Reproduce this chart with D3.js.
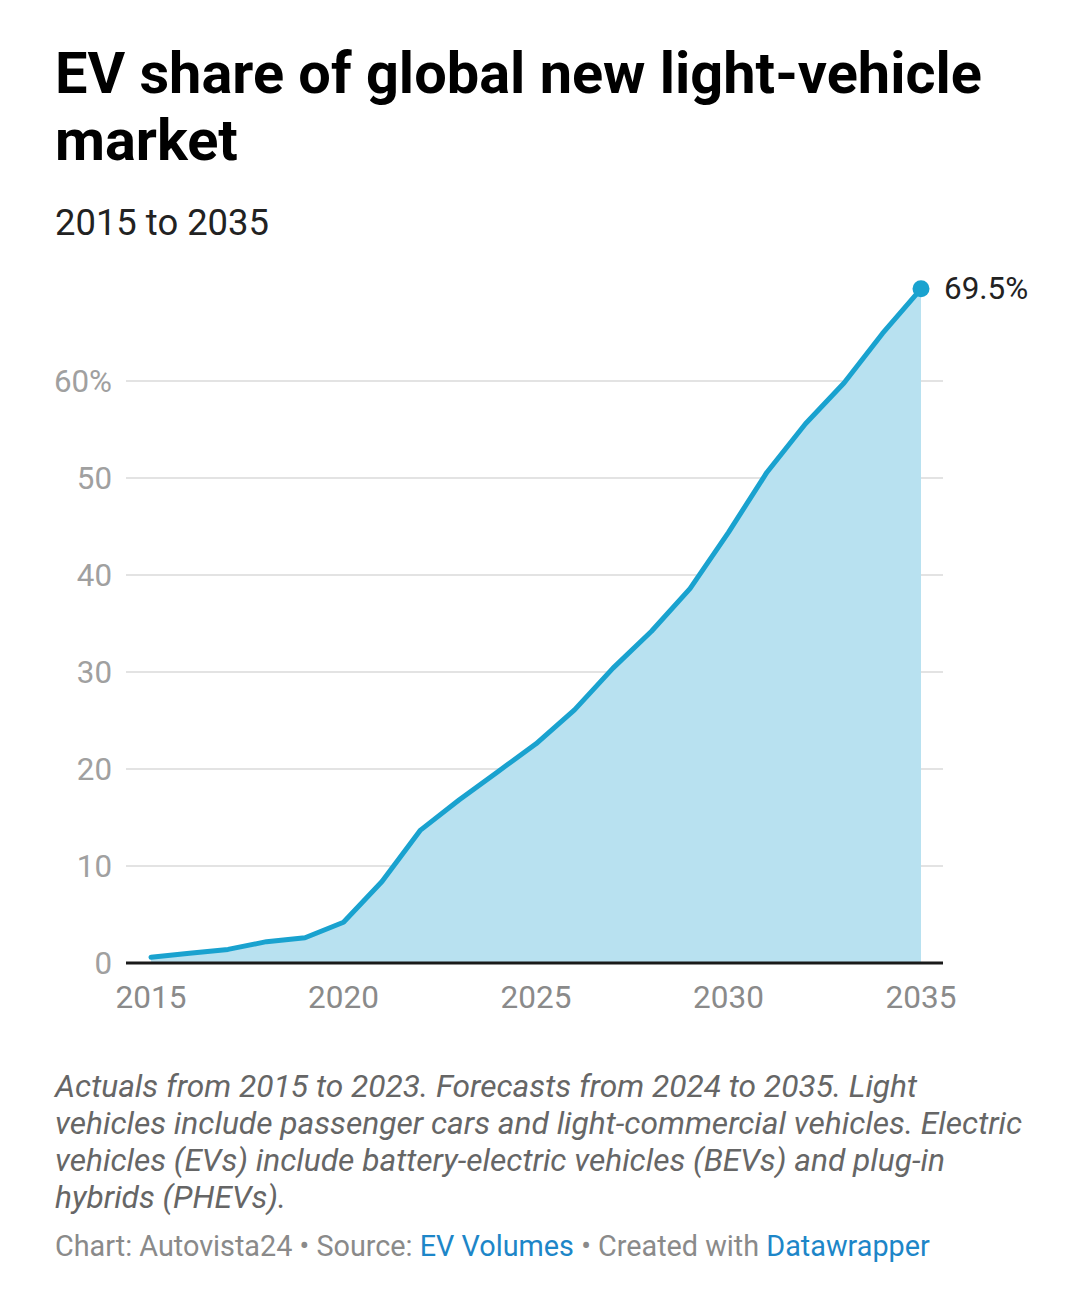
<!DOCTYPE html>
<html><head><meta charset="utf-8">
<script src="https://cdn.jsdelivr.net/npm/d3@7"></script>
<style>
body{margin:0;background:#fff;font-family:Roboto,"Noto Sans",sans-serif;}
</style></head><body>
<svg id="c" width="1080" height="1306"></svg>
<script>
const years = [2015,2016,2017,2018,2019,2020,2021,2022,2023,2024,2025,2026,2027,2028,2029,2030,2031,2032,2033,2034,2035];
const share = [0.6,1.0,1.4,2.2,2.6,4.2,8.4,13.7,16.8,19.7,22.6,26.1,30.4,34.2,38.6,44.4,50.6,55.6,59.8,64.9,69.5];
const yTicks = [0,10,20,30,40,50,60];
const xTicks = [2015,2020,2025,2030,2035];
const titleLines = ["EV share of global new light-vehicle","market"];
const subtitle = "2015 to 2035";
const noteLines = ["Actuals from 2015 to 2023. Forecasts from 2024 to 2035. Light","vehicles include passenger cars and light-commercial vehicles. Electric","vehicles (EVs) include battery-electric vehicles (BEVs) and plug-in","hybrids (PHEVs)."];

const svg = d3.select("#c");
const x = d3.scaleLinear().domain([2015,2035]).range([151,921]);
const y = d3.scaleLinear().domain([0,60]).range([963,381]);
const gridL = 126, gridR = 943;

// title
svg.append("g").selectAll("text").data(titleLines).join("text")
  .attr("x",55).attr("y",(d,i)=>93+i*67)
  .attr("font-size",57.7).attr("font-weight",700).attr("fill","#000")
  .text(d=>d);
svg.append("text").attr("x",55).attr("y",235).attr("font-size",36.4).attr("fill","#222").text(subtitle);

// grid
const g = svg.append("g");
g.selectAll("line.grid").data(yTicks.filter(d=>d>0)).join("line")
  .attr("x1",gridL).attr("x2",gridR).attr("y1",d=>y(d)).attr("y2",d=>y(d))
  .attr("stroke","#e3e3e3").attr("stroke-width",2);
g.selectAll("text.yt").data(yTicks).join("text")
  .attr("x",112).attr("y",d=>y(d)+11).attr("text-anchor","end")
  .attr("font-size",31.3).attr("fill","#a0a0a0")
  .text(d=>d===60?"60%":d);

// area
const data = years.map((yr,i)=>({yr,v:share[i]}));
g.append("path").datum(data)
  .attr("d",d3.area().x(d=>x(d.yr)).y0(y(0)).y1(d=>y(d.v)))
  .attr("fill","#b8e1f0");
g.append("path").datum(data)
  .attr("d",d3.line().x(d=>x(d.yr)).y(d=>y(d.v)))
  .attr("fill","none").attr("stroke","#19a2cf").attr("stroke-width",5)
  .attr("stroke-linejoin","round").attr("stroke-linecap","round");

// baseline
g.append("line").attr("x1",gridL).attr("x2",gridR).attr("y1",y(0)).attr("y2",y(0))
  .attr("stroke","#1a1a1a").attr("stroke-width",3);

// x ticks
g.selectAll("text.xt").data(xTicks).join("text")
  .attr("x",d=>x(d)).attr("y",1008).attr("text-anchor","middle")
  .attr("font-size",31.5).attr("fill","#8a8a8a").text(d=>d);

// end dot and label
const last = data[data.length-1];
g.append("circle").attr("cx",x(last.yr)).attr("cy",y(last.v)).attr("r",8.5).attr("fill","#19a2cf");
g.append("text").attr("x",x(last.yr)+23).attr("y",y(last.v)+10)
  .attr("font-size",31.4).attr("fill","#222").text(last.v+"%");

// notes
svg.append("g").selectAll("text").data(noteLines).join("text")
  .attr("x",55).attr("y",(d,i)=>1097+i*37)
  .attr("font-size",31.7).attr("font-style","italic").attr("fill","#666")
  .text(d=>d);

// footer
const f = svg.append("text").attr("x",55).attr("y",1256).attr("font-size",28.8).attr("fill","#8a8a8a");
f.append("tspan").text("Chart: Autovista24 • Source: ");
f.append("tspan").attr("fill","#1d86c8").text("EV Volumes");
f.append("tspan").text(" • Created with ");
f.append("tspan").attr("fill","#1d86c8").text("Datawrapper");
</script>
</body></html>
